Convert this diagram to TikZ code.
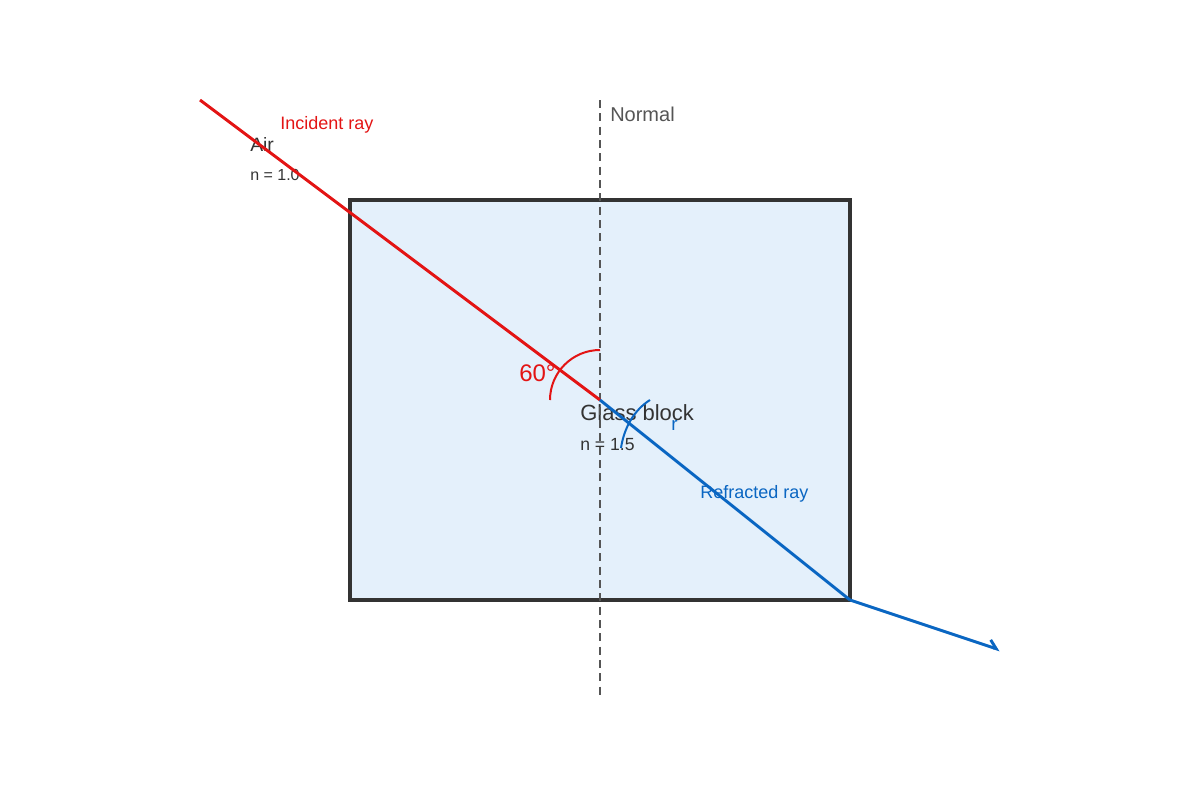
\documentclass[tikz,border=0pt]{standalone}
\usepackage{fontspec}
\setmainfont{Liberation Sans}
\usetikzlibrary{arrows.meta}

\definecolor{rayred}{HTML}{E31414}
\definecolor{rayblue}{HTML}{0A66C2}
\definecolor{glassfill}{HTML}{E4F0FB}
\definecolor{edgegray}{HTML}{333333}
\definecolor{normalgray}{HTML}{555555}

\tikzset{
  glass/.style={draw=edgegray, fill=glassfill, line width=2.3pt},
  normalline/.style={draw=normalgray, line width=1.1pt, dash pattern=on 6pt off 4pt},
  incident/.style={draw=rayred, line width=2.2pt},
  refracted/.style={draw=rayblue, line width=2.2pt},
  lbl/.style={anchor=west, inner sep=0pt, text=edgegray}
}

\begin{document}
\begin{tikzpicture}[x=0.75pt, y=-0.75pt]
    \useasboundingbox (0,0) rectangle (1200,800);

    % 玻璃块
    \draw[glass] (350,200) rectangle (850,600);

    % 文字
    \node[lbl, text=rayred, font=\fontsize{13.5}{15}\selectfont] (inclbl) at (280,125) {Incident ray};
    \node[lbl, font=\fontsize{14.5}{16}\selectfont] (air) at (250,144) {Air};
    \node[lbl, font=\fontsize{12}{13}\selectfont] (airn) at (250,175) {n = 1.0};
    \node[lbl, text=normalgray, font=\fontsize{15}{17}\selectfont] (normlbl) at (610,114) {Normal};
    \node[lbl, font=\fontsize{16.5}{18}\selectfont] (glasslbl) at (580,413) {Glass block};
    \node[lbl, font=\fontsize{13.2}{15}\selectfont] (glassn) at (580,445) {n = 1.5};
    \node[lbl, text=rayblue, font=\fontsize{13.5}{15}\selectfont] (reflbl) at (700,494) {Refracted ray};
    \node[lbl, text=rayred, font=\fontsize{18}{20}\selectfont] (angi) at (519,373) {60°};
    \node[lbl, text=rayblue, font=\fontsize{14}{16}\selectfont] (angr) at (671,425) {r};

    % 法线
    \coordinate (ntop) at (600,100);
    \coordinate (nbot) at (600,695);
    \draw[normalline] (ntop) -- (nbot);

    % 光线
    \coordinate (src) at (200,100);
    \coordinate (hit) at (600,400);
    \coordinate (exit) at (850,600);
    \coordinate (tip) at (1000,650);
    \draw[incident] (src) -- (hit);
    \draw[refracted] (hit) -- (exit);
    \draw[refracted, -{Straight Barb[harpoon, length=6pt, width=10pt]}] (exit) -- (tip);

    % 角度
    \draw[rayred, line width=1.5pt] (600,350) arc[start angle=-90, end angle=-180, radius=50];
    \draw[rayblue, line width=1.5pt] (621,448) .. controls (624,428) and (634,410) .. (650,400);
\end{tikzpicture}
\end{document}
